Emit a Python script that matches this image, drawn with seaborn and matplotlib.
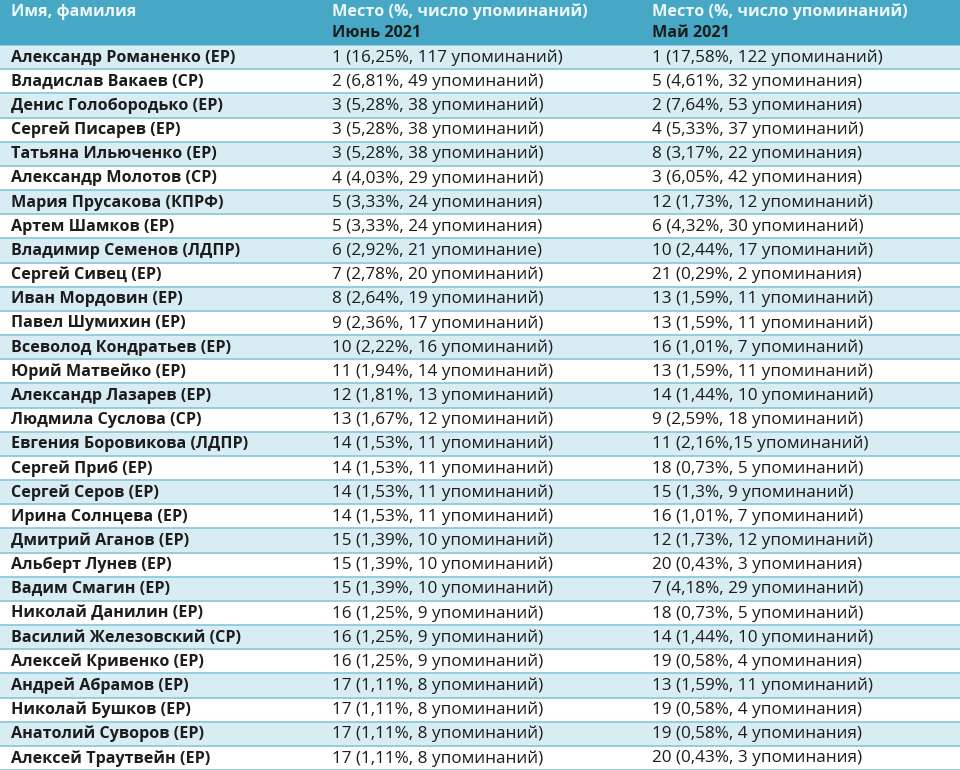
import numpy as np
import seaborn as sns
import matplotlib.pyplot as plt
from matplotlib.colors import ListedColormap
import matplotlib.transforms as mtransforms

# column headers
header_top = ["Имя, фамилия", "Место (%, число упоминаний)", "Место (%, число упоминаний)"]
header_sub = ["", "Июнь 2021", "Май 2021"]

names = [
    "Александр Романенко (ЕР)", "Владислав Вакаев (СР)", "Денис Голобородько (ЕР)",
    "Сергей Писарев (ЕР)", "Татьяна Ильюченко (ЕР)", "Александр Молотов (СР)",
    "Мария Прусакова (КПРФ)", "Артем Шамков (ЕР)", "Владимир Семенов (ЛДПР)",
    "Сергей Сивец (ЕР)", "Иван Мордовин (ЕР)", "Павел Шумихин (ЕР)",
    "Всеволод Кондратьев (ЕР)", "Юрий Матвейко (ЕР)", "Александр Лазарев (ЕР)",
    "Людмила Суслова (СР)", "Евгения Боровикова (ЛДПР)", "Сергей Приб (ЕР)",
    "Сергей Серов (ЕР)", "Ирина Солнцева (ЕР)", "Дмитрий Аганов (ЕР)",
    "Альберт Лунев (ЕР)", "Вадим Смагин (ЕР)", "Николай Данилин (ЕР)",
    "Василий Железовский (СР)", "Алексей Кривенко (ЕР)", "Андрей Абрамов (ЕР)",
    "Николай Бушков (ЕР)", "Анатолий Суворов (ЕР)", "Алексей Траутвейн (ЕР)",
]

june = [
    "1 (16,25%, 117 упоминаний)", "2 (6,81%, 49 упоминаний)", "3 (5,28%, 38 упоминаний)",
    "3 (5,28%, 38 упоминаний)", "3 (5,28%, 38 упоминаний)", "4 (4,03%, 29 упоминаний)",
    "5 (3,33%, 24 упоминания)", "5 (3,33%, 24 упоминания)", "6 (2,92%, 21 упоминание)",
    "7 (2,78%, 20 упоминаний)", "8 (2,64%, 19 упоминаний)", "9 (2,36%, 17 упоминаний)",
    "10 (2,22%, 16 упоминаний)", "11 (1,94%, 14 упоминаний)", "12 (1,81%, 13 упоминаний)",
    "13 (1,67%, 12 упоминаний)", "14 (1,53%, 11 упоминаний)", "14 (1,53%, 11 упоминаний)",
    "14 (1,53%, 11 упоминаний)", "14 (1,53%, 11 упоминаний)", "15 (1,39%, 10 упоминаний)",
    "15 (1,39%, 10 упоминаний)", "15 (1,39%, 10 упоминаний)", "16 (1,25%, 9 упоминаний)",
    "16 (1,25%, 9 упоминаний)", "16 (1,25%, 9 упоминаний)", "17 (1,11%, 8 упоминаний)",
    "17 (1,11%, 8 упоминаний)", "17 (1,11%, 8 упоминаний)", "17 (1,11%, 8 упоминаний)",
]

may = [
    "1 (17,58%, 122 упоминаний)", "5 (4,61%, 32 упоминания)", "2 (7,64%, 53 упоминания)",
    "4 (5,33%, 37 упоминаний)", "8 (3,17%, 22 упоминания)", "3 (6,05%, 42 упоминания)",
    "12 (1,73%, 12 упоминаний)", "6 (4,32%, 30 упоминаний)", "10 (2,44%, 17 упоминаний)",
    "21 (0,29%, 2 упоминания)", "13 (1,59%, 11 упоминаний)", "13 (1,59%, 11 упоминаний)",
    "16 (1,01%, 7 упоминаний)", "13 (1,59%, 11 упоминаний)", "14 (1,44%, 10 упоминаний)",
    "9 (2,59%, 18 упоминаний)", "11 (2,16%,15 упоминаний)", "18 (0,73%, 5 упоминаний)",
    "15 (1,3%, 9 упоминаний)", "16 (1,01%, 7 упоминаний)", "12 (1,73%, 12 упоминаний)",
    "20 (0,43%, 3 упоминания)", "7 (4,18%, 29 упоминаний)", "18 (0,73%, 5 упоминаний)",
    "14 (1,44%, 10 упоминаний)", "19 (0,58%, 4 упоминания)", "13 (1,59%, 11 упоминаний)",
    "19 (0,58%, 4 упоминания)", "19 (0,58%, 4 упоминания)", "20 (0,43%, 3 упоминания)",
]

sns.set_style("white")
plt.rcParams['font.family'] = ['Open Sans', 'DejaVu Sans']

TEAL = "#46a8c4"
LIGHT = "#d8ecf3"
LINE = "#8ecadb"
TEXT = "#1c1c1c"
col_x = [11 / 960, 332 / 960, 652 / 960]
FS_B = 11.6
FS_R = 12.3

fig = plt.figure(figsize=(9.6, 7.7), dpi=100)
head_h = 45 / 770

# header band
hax = fig.add_axes([0, 1 - head_h, 1, head_h])
hax.set_facecolor(TEAL)
hax.set_xticks([])
hax.set_yticks([])
for s in hax.spines.values():
    s.set_visible(False)
for x, t, sub in zip(col_x, header_top, header_sub):
    hax.text(x, 0.74, t, transform=hax.transAxes, ha="left", va="center",
             fontsize=FS_B, fontweight="bold", color="#eef7fa")
    if sub:
        hax.text(x, 0.26, sub, transform=hax.transAxes, ha="left", va="center",
                 fontsize=FS_B, fontweight="bold", color=TEXT)

# body: alternating row stripes via heatmap
ax = fig.add_axes([0, 0, 1, 1 - head_h])
stripes = np.array([[i % 2] for i in range(len(names))])
sns.heatmap(stripes, ax=ax, cmap=ListedColormap([LIGHT, "white"]), cbar=False,
            xticklabels=False, yticklabels=False, vmin=0, vmax=1)
for i in range(len(names) + 1):
    ax.axhline(i, color=LINE, lw=1.3)

trans = mtransforms.blended_transform_factory(ax.transAxes, ax.transData)
for i, (n, j, m) in enumerate(zip(names, june, may)):
    y = i + 0.52
    ax.text(col_x[0], y, n, transform=trans, ha="left", va="center",
            fontsize=FS_B, fontweight="bold", color=TEXT)
    ax.text(col_x[1], y, j, transform=trans, ha="left", va="center",
            fontsize=FS_R, color=TEXT)
    ax.text(col_x[2], y, m, transform=trans, ha="left", va="center",
            fontsize=FS_R, color=TEXT)

fig.savefig("out.png", dpi=100)
